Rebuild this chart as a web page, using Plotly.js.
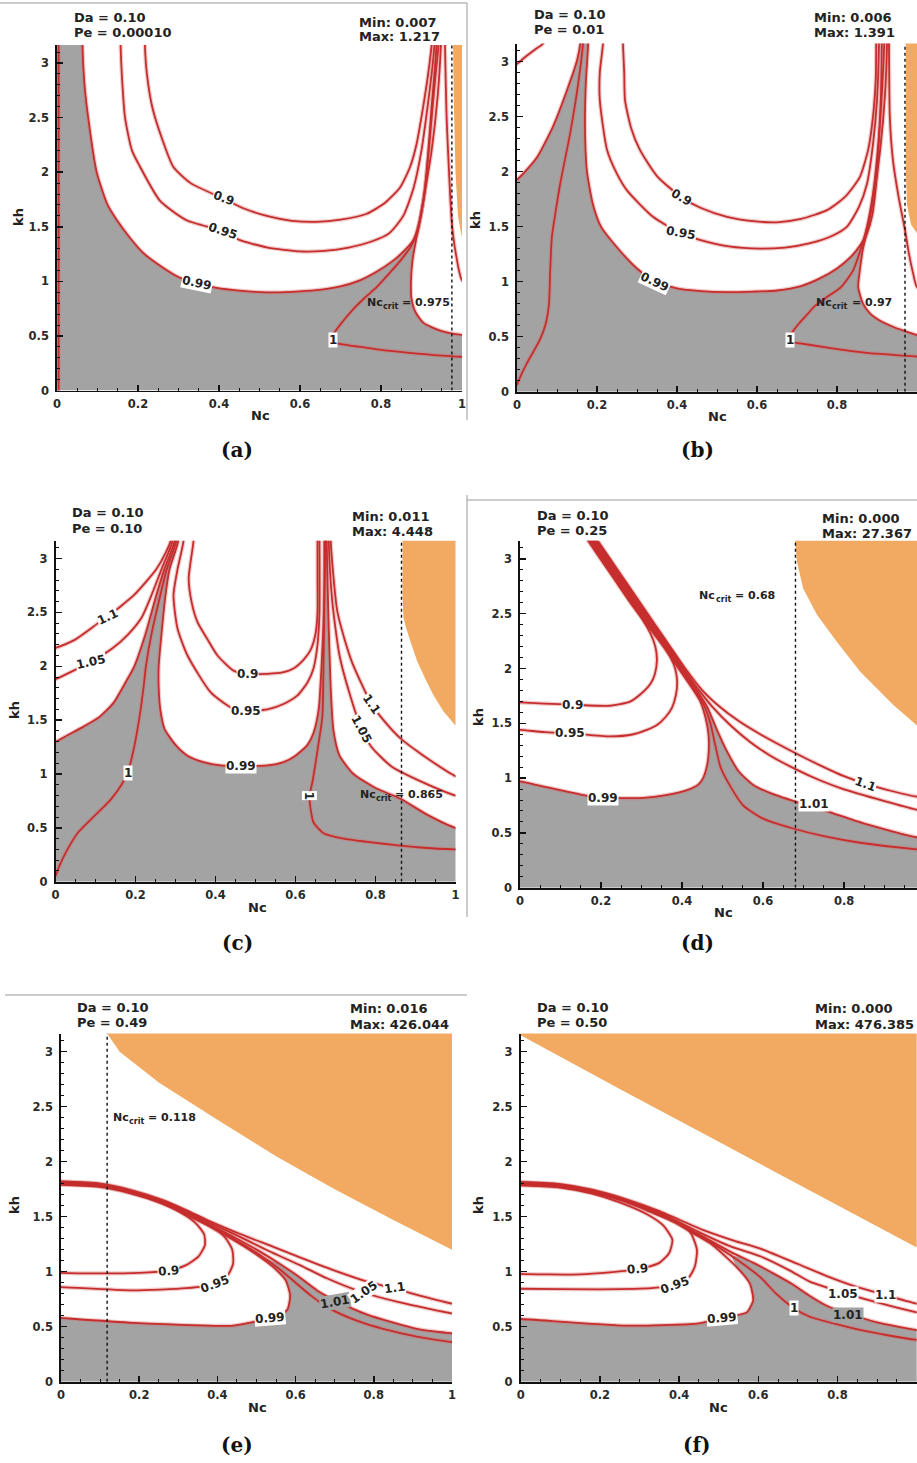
<!DOCTYPE html>
<html><head><meta charset="utf-8">
<script src="https://cdn.plot.ly/plotly-3.0.1.min.js"></script>
<style>html,body{margin:0;padding:0;background:#fff}#plot{width:917px;height:1463px}</style>
</head><body><div id="plot"></div>
<script>
// ---------------- DATA (Nc, kh) ----------------
const xTickVals = [0, 0.2, 0.4, 0.6, 0.8, 1];
const xTickText = ['0', '0.2', '0.4', '0.6', '0.8', '1'];
const yTickVals = [0, 0.5, 1, 1.5, 2, 2.5, 3];
const yTickText = ['0', '0.5', '1', '1.5', '2', '2.5', '3'];
const KH_MAX = 3.165;

const daText = ['Da = 0.10', 'Da = 0.10', 'Da = 0.10', 'Da = 0.10', 'Da = 0.10', 'Da = 0.10'];
const peText = ['Pe = 0.00010', 'Pe = 0.01', 'Pe = 0.10', 'Pe = 0.25', 'Pe = 0.49', 'Pe = 0.50'];
const minText = ['Min: 0.007', 'Min: 0.006', 'Min: 0.011', 'Min: 0.000', 'Min: 0.016', 'Min: 0.000'];
const maxText = ['Max: 1.217', 'Max: 1.391', 'Max: 4.448', 'Max: 27.367', 'Max: 426.044', 'Max: 476.385'];
const ncCrit = [0.975, 0.97, 0.865, 0.68, 0.118, null];
const ncCritText = ['0.975', '0.97', '0.865', '0.68', '0.118', null];
const subLabels = ['(a)', '(b)', '(c)', '(d)', '(e)', '(f)'];

// ----- panel (a) -----
const a_left = [[0.004,-0.1],[0.004,3.4]];
const a_090 = [[0.217,3.4],[0.217,3.165],[0.222,2.9],[0.235,2.6],[0.26,2.3],[0.287,2.05],[0.33,1.9],[0.41,1.76],[0.46,1.67],[0.518,1.6],[0.58,1.555],[0.64,1.545],[0.70,1.565],[0.765,1.62],[0.81,1.72],[0.847,1.86],[0.872,2.05],[0.888,2.26],[0.902,2.55],[0.913,2.81],[0.92,3.0],[0.925,3.165],[0.926,3.4]];
const a_095 = [[0.156,3.4],[0.157,3.165],[0.16,2.9],[0.168,2.5],[0.185,2.2],[0.205,2.05],[0.254,1.74],[0.32,1.56],[0.41,1.46],[0.45,1.38],[0.52,1.31],[0.6,1.275],[0.66,1.28],[0.72,1.31],[0.78,1.37],[0.82,1.44],[0.855,1.6],[0.88,1.85],[0.9,2.2],[0.915,2.6],[0.925,2.9],[0.932,3.165],[0.933,3.4]];
const a_099 = [[0.063,3.4],[0.063,3.165],[0.068,2.8],[0.077,2.5],[0.098,2.0],[0.125,1.7],[0.148,1.56],[0.18,1.4],[0.213,1.26],[0.26,1.13],[0.30,1.04],[0.345,0.985],[0.395,0.94],[0.45,0.915],[0.518,0.90],[0.58,0.905],[0.64,0.92],[0.70,0.955],[0.748,1.01],[0.79,1.09],[0.83,1.19],[0.86,1.29],[0.88,1.38],[0.895,1.55],[0.907,1.8],[0.917,2.2],[0.925,2.6],[0.932,2.9],[0.937,3.165],[0.938,3.4]];
const a_100 = [[0.943,3.4],[0.942,3.165],[0.935,2.9],[0.925,2.5],[0.913,2.0],[0.903,1.7],[0.89,1.45],[0.872,1.31],[0.85,1.2],[0.822,1.08],[0.79,0.95],[0.76,0.85],[0.73,0.74],[0.705,0.63],[0.685,0.53],[0.68,0.47],[0.69,0.435],[0.72,0.415],[0.76,0.395],[0.805,0.37],[0.87,0.345],[0.93,0.325],[1.0,0.31],[1.03,0.31]];
const a_desc = [[0.95,3.4],[0.948,3.165],[0.94,2.7],[0.925,2.2],[0.905,1.75],[0.888,1.41],[0.878,1.2],[0.874,1.0],[0.875,0.85],[0.885,0.72],[0.905,0.62],[0.946,0.55],[1.0,0.51],[1.03,0.505]];
const a_right = [[0.958,3.4],[0.958,3.165],[0.962,2.5],[0.968,2.0],[0.975,1.53],[0.985,1.25],[1.0,1.01],[1.03,0.95]];
const a_gray = [[-0.02,3.4],[0.063,3.4],[0.063,3.165],[0.068,2.8],[0.077,2.5],[0.098,2.0],[0.125,1.7],[0.148,1.56],[0.18,1.4],[0.213,1.26],[0.26,1.13],[0.30,1.04],[0.345,0.985],[0.395,0.94],[0.45,0.915],[0.518,0.90],[0.58,0.905],[0.64,0.92],[0.70,0.955],[0.748,1.01],[0.79,1.09],[0.83,1.19],[0.86,1.29],[0.88,1.38],[0.889,1.47],[0.882,1.33],[0.877,1.18],[0.874,1.0],[0.875,0.85],[0.885,0.72],[0.905,0.62],[0.946,0.55],[1.0,0.51],[1.03,0.505]];
const a_orange = [[0.978,3.4],[0.978,3.165],[0.98,2.6],[0.984,2.0],[0.99,1.6],[0.997,1.45],[1.0,1.4],[1.05,1.38],[1.05,3.4]];
const a_labels = [['0.9',0.41,1.76,20,'#fff'],['0.95',0.41,1.46,18,'#fff'],['0.99',0.345,0.985,12,'#fff'],['1',0.682,0.46,0,'#fff']];

// ----- panel (b) -----
const b_top = [[-0.02,2.94],[0.0,2.98],[0.02,3.04],[0.045,3.11],[0.065,3.165],[0.08,3.4]];
const b_edge = [[-0.02,1.92],[0,1.93],[0.02,2.0],[0.05,2.13],[0.09,2.41],[0.125,2.74],[0.15,3.01],[0.158,3.165],[0.16,3.4]];
const b_100L = [[0.0,0.06],[0.01,0.15],[0.025,0.26],[0.057,0.47],[0.072,0.62],[0.08,0.8],[0.083,1.1],[0.087,1.4],[0.095,1.6],[0.108,1.89],[0.133,2.35],[0.153,2.8],[0.165,3.165],[0.167,3.4]];
const b_099 = [[0.178,3.4],[0.178,3.165],[0.172,2.8],[0.17,2.4],[0.175,2.0],[0.19,1.7],[0.21,1.5],[0.26,1.27],[0.30,1.12],[0.345,1.0],[0.40,0.94],[0.46,0.915],[0.525,0.905],[0.59,0.91],[0.65,0.92],[0.71,0.96],[0.757,1.03],[0.80,1.12],[0.833,1.22],[0.858,1.33],[0.875,1.44],[0.888,1.6],[0.898,1.9],[0.905,2.3],[0.91,2.7],[0.912,3.165],[0.913,3.4]];
const b_095 = [[0.215,3.4],[0.215,3.165],[0.207,2.9],[0.207,2.65],[0.225,2.2],[0.25,1.98],[0.275,1.83],[0.34,1.59],[0.41,1.44],[0.457,1.38],[0.53,1.32],[0.607,1.30],[0.67,1.31],[0.733,1.35],[0.79,1.42],[0.825,1.5],[0.855,1.68],[0.875,1.89],[0.89,2.25],[0.9,2.65],[0.905,3.165],[0.905,3.4]];
const b_090 = [[0.265,3.4],[0.265,3.165],[0.268,2.9],[0.27,2.65],[0.285,2.4],[0.307,2.2],[0.35,1.96],[0.41,1.77],[0.46,1.67],[0.525,1.59],[0.59,1.55],[0.65,1.54],[0.71,1.57],[0.775,1.65],[0.82,1.77],[0.857,1.95],[0.878,2.2],[0.89,2.5],[0.897,2.85],[0.898,3.165],[0.898,3.4]];
const b_100 = [[0.918,3.4],[0.918,3.165],[0.912,2.7],[0.902,2.2],[0.89,1.8],[0.875,1.5],[0.858,1.28],[0.84,1.1],[0.81,0.95],[0.775,0.86],[0.745,0.78],[0.725,0.7],[0.705,0.62],[0.69,0.55],[0.683,0.49],[0.69,0.45],[0.708,0.44],[0.76,0.41],[0.815,0.38],[0.88,0.35],[0.94,0.335],[1.0,0.32],[1.03,0.32]];
const b_desc = [[0.925,3.4],[0.925,3.165],[0.92,2.7],[0.908,2.2],[0.893,1.8],[0.878,1.5],[0.865,1.3],[0.857,1.1],[0.853,0.95],[0.865,0.8],[0.883,0.71],[0.91,0.64],[0.94,0.59],[0.97,0.55],[1.0,0.515],[1.03,0.51]];
const b_right = [[0.93,3.4],[0.93,3.165],[0.932,2.5],[0.94,2.1],[0.955,1.75],[0.97,1.47],[0.98,1.25],[0.99,1.08],[1.0,0.95],[1.03,0.9]];
const b_gray = [[-0.02,1.92],[0,1.93],[0.02,2.0],[0.05,2.13],[0.09,2.41],[0.125,2.74],[0.15,3.01],[0.158,3.165],[0.16,3.4],[0.178,3.4],[0.178,3.165],[0.172,2.8],[0.17,2.4],[0.175,2.0],[0.19,1.7],[0.21,1.5],[0.26,1.27],[0.30,1.12],[0.345,1.0],[0.40,0.94],[0.46,0.915],[0.525,0.905],[0.59,0.91],[0.65,0.92],[0.71,0.96],[0.757,1.03],[0.80,1.12],[0.833,1.22],[0.858,1.33],[0.875,1.44],[0.882,1.52],[0.872,1.4],[0.862,1.25],[0.857,1.1],[0.853,0.95],[0.865,0.8],[0.883,0.71],[0.91,0.64],[0.94,0.59],[0.97,0.55],[1.0,0.515],[1.03,0.51]];
const b_orange = [[0.972,3.4],[0.972,2.0],[0.975,1.7],[0.985,1.52],[1.0,1.44],[1.05,1.42],[1.05,3.4]];
const b_labels = [['0.9',0.41,1.77,30,'#fff'],['0.95',0.41,1.44,10,'#fff'],['0.99',0.345,1.0,25,'#fff'],['1',0.683,0.47,0,'#fff']];

// ----- panel (c) -----
const c_110L = [[-0.02,2.15],[0,2.17],[0.05,2.25],[0.11,2.41],[0.13,2.46],[0.196,2.66],[0.23,2.8],[0.252,2.9],[0.275,3.05],[0.288,3.165],[0.29,3.4]];
const c_105L = [[-0.02,1.86],[0,1.88],[0.04,1.95],[0.0875,2.04],[0.14,2.16],[0.18,2.29],[0.215,2.45],[0.24,2.66],[0.265,2.9],[0.293,3.165],[0.295,3.4]];
const c_edgeL = [[-0.02,1.29],[0,1.3],[0.03,1.36],[0.07,1.44],[0.11,1.53],[0.145,1.66],[0.175,1.85],[0.197,2.0],[0.225,2.3],[0.252,2.66],[0.272,2.9],[0.298,3.165],[0.3,3.4]];
const c_100L = [[0,0.05],[0.01,0.15],[0.03,0.3],[0.055,0.45],[0.1,0.62],[0.1375,0.76],[0.165,0.9],[0.18,1.01],[0.195,1.22],[0.21,1.53],[0.22,1.8],[0.226,2.0],[0.24,2.3],[0.262,2.66],[0.278,2.9],[0.302,3.165],[0.304,3.4]];
const c_099 = [[0.307,3.4],[0.307,3.165],[0.285,2.9],[0.275,2.66],[0.265,2.3],[0.258,2.0],[0.258,1.8],[0.262,1.6],[0.2725,1.42],[0.3,1.27],[0.33,1.17],[0.37,1.11],[0.4125,1.08],[0.4625,1.075],[0.53,1.08],[0.57,1.11],[0.6,1.17],[0.63,1.27],[0.645,1.38],[0.658,1.6],[0.665,2.0],[0.67,2.4],[0.673,2.8],[0.675,3.165],[0.675,3.4]];
const c_095 = [[0.32,3.4],[0.32,3.165],[0.305,2.9],[0.295,2.66],[0.305,2.35],[0.33,2.1],[0.3875,1.76],[0.4375,1.62],[0.475,1.585],[0.53,1.6],[0.57,1.65],[0.605,1.73],[0.63,1.85],[0.645,1.98],[0.655,2.2],[0.66,2.5],[0.66,3.165],[0.66,3.4]];
const c_090 = [[0.345,3.4],[0.345,3.165],[0.333,2.82],[0.34,2.6],[0.355,2.41],[0.38,2.25],[0.405,2.1],[0.445,1.96],[0.48,1.93],[0.53,1.93],[0.565,1.94],[0.595,1.98],[0.62,2.06],[0.6375,2.15],[0.65,2.3],[0.655,2.5],[0.655,2.82],[0.655,3.165],[0.655,3.4]];
const c_100R = [[0.672,3.4],[0.672,3.165],[0.672,2.6],[0.67,2.0],[0.667,1.53],[0.655,1.22],[0.642,0.92],[0.635,0.8],[0.638,0.67],[0.645,0.55],[0.67,0.45],[0.72,0.4],[0.78,0.37],[0.85,0.34],[0.905,0.32],[1.0,0.30],[1.03,0.3]];
const c_edgeR = [[0.678,3.4],[0.678,3.165],[0.682,2.5],[0.688,1.8],[0.695,1.4],[0.71,1.17],[0.745,1.0],[0.8,0.87],[0.8625,0.77],[0.93,0.62],[1.0,0.5],[1.03,0.49]];
const c_105R = [[0.683,3.4],[0.683,3.165],[0.692,2.6],[0.71,2.1],[0.735,1.75],[0.765,1.42],[0.79,1.25],[0.84,1.07],[0.92,0.92],[1.0,0.8],[1.03,0.78]];
const c_110R = [[0.688,3.4],[0.688,3.165],[0.705,2.5],[0.74,2.05],[0.79,1.65],[0.82,1.5],[0.8625,1.33],[0.92,1.17],[1.0,0.98],[1.03,0.95]];
const c_gray = [[-0.02,1.29],[0,1.3],[0.03,1.36],[0.07,1.44],[0.11,1.53],[0.145,1.66],[0.175,1.85],[0.197,2.0],[0.225,2.3],[0.252,2.66],[0.272,2.9],[0.298,3.165],[0.3,3.4],[0.307,3.4],[0.307,3.165],[0.285,2.9],[0.275,2.66],[0.265,2.3],[0.258,2.0],[0.258,1.8],[0.262,1.6],[0.2725,1.42],[0.3,1.27],[0.33,1.17],[0.37,1.11],[0.4125,1.08],[0.4625,1.075],[0.53,1.08],[0.57,1.11],[0.6,1.17],[0.63,1.27],[0.645,1.38],[0.658,1.6],[0.665,2.0],[0.67,2.4],[0.673,2.8],[0.675,3.165],[0.675,3.4],[0.678,3.4],[0.678,3.165],[0.682,2.5],[0.688,1.8],[0.695,1.4],[0.71,1.17],[0.745,1.0],[0.8,0.87],[0.8625,0.77],[0.93,0.62],[1.0,0.5],[1.03,0.49]];
const c_orange = [[0.8675,3.4],[0.8675,2.66],[0.87,2.45],[0.877,2.35],[0.89,2.2],[0.905,2.04],[0.925,1.88],[0.945,1.73],[0.97,1.58],[1.0,1.45],[1.05,1.43],[1.05,3.4]];
const c_labels = [['1.1',0.13,2.46,-25,'#fff'],['1.05',0.0875,2.04,-12,'#fff'],['0.9',0.48,1.93,0,'#fff'],['0.95',0.475,1.585,0,'#fff'],['0.99',0.4625,1.075,0,'#fff'],['1',0.18,1.01,0,'#fff'],['1',0.636,0.8,90,'#fff'],['1.1',0.79,1.65,55,'#fff'],['1.05',0.765,1.42,62,'#fff']];

// ----- panel (d) -----
const d_090 = [[0.1245,3.4],[0.168,3.165],[0.1985,3.0],[0.2355,2.8],[0.2725,2.6],[0.302,2.45],[0.322,2.32],[0.334,2.2],[0.338,2.08],[0.333,1.95],[0.322,1.86],[0.296,1.76],[0.27,1.695],[0.222,1.66],[0.13,1.67],[0.06,1.68],[0,1.69],[-0.02,1.69]];
const d_095 = [[0.1285,3.4],[0.172,3.165],[0.2025,3.0],[0.2395,2.8],[0.2765,2.6],[0.3135,2.4],[0.334,2.3],[0.355,2.2],[0.372,2.1],[0.383,2.0],[0.388,1.88],[0.385,1.76],[0.375,1.64],[0.36,1.56],[0.34,1.49],[0.313,1.44],[0.28,1.4],[0.222,1.38],[0.123,1.41],[0.06,1.42],[0,1.44],[-0.02,1.44]];
const d_099 = [[0.1325,3.4],[0.176,3.165],[0.2065,3.0],[0.2435,2.8],[0.2805,2.6],[0.3175,2.4],[0.3545,2.2],[0.3915,2.0],[0.4285,1.8],[0.445,1.7],[0.458,1.55],[0.465,1.41],[0.466,1.25],[0.462,1.12],[0.452,1.0],[0.44,0.94],[0.412,0.89],[0.36,0.845],[0.304,0.82],[0.205,0.82],[0.15,0.85],[0.099,0.89],[0.05,0.93],[0,0.97],[-0.02,0.98]];
const d_100 = [[0.1365,3.4],[0.18,3.165],[0.2105,3.0],[0.2475,2.8],[0.2845,2.6],[0.3215,2.4],[0.3585,2.2],[0.3955,2.0],[0.4325,1.8],[0.455,1.66],[0.47,1.5],[0.482,1.3],[0.495,1.1],[0.52,0.92],[0.551,0.75],[0.6,0.63],[0.674,0.54],[0.75,0.47],[0.84,0.41],[0.98,0.35],[1.03,0.34]];
const d_101 = [[0.1405,3.4],[0.184,3.165],[0.2145,3.0],[0.2515,2.8],[0.2885,2.6],[0.3255,2.4],[0.3625,2.2],[0.3995,2.0],[0.4365,1.8],[0.462,1.65],[0.485,1.45],[0.51,1.25],[0.54,1.06],[0.575,0.94],[0.62,0.86],[0.68,0.785],[0.716,0.745],[0.76,0.695],[0.85,0.585],[0.98,0.46],[1.03,0.45]];
const d_105 = [[0.1445,3.4],[0.188,3.165],[0.2185,3.0],[0.2555,2.8],[0.2925,2.6],[0.3295,2.4],[0.3665,2.2],[0.4035,2.0],[0.442,1.8],[0.475,1.65],[0.52,1.48],[0.568,1.33],[0.62,1.2],[0.684,1.075],[0.74,0.98],[0.798,0.9],[0.9,0.79],[0.98,0.71],[1.03,0.69]];
const d_110 = [[0.1485,3.4],[0.192,3.165],[0.2225,3.0],[0.2595,2.8],[0.2965,2.6],[0.3335,2.4],[0.3705,2.2],[0.408,2.0],[0.45,1.8],[0.49,1.66],[0.54,1.52],[0.593,1.40],[0.684,1.22],[0.75,1.1],[0.798,1.02],[0.852,0.95],[0.92,0.88],[0.98,0.83],[1.03,0.81]];
const d_gray = [[-0.02,0.98],[0,0.97],[0.05,0.93],[0.099,0.89],[0.15,0.85],[0.205,0.82],[0.304,0.82],[0.36,0.845],[0.412,0.89],[0.44,0.94],[0.452,1.0],[0.462,1.12],[0.466,1.25],[0.465,1.41],[0.458,1.55],[0.445,1.7],[0.4325,1.8],[0.4365,1.8],[0.462,1.65],[0.485,1.45],[0.51,1.25],[0.54,1.06],[0.575,0.94],[0.62,0.86],[0.68,0.785],[0.716,0.745],[0.76,0.695],[0.85,0.585],[0.98,0.46],[1.03,0.45]];
const d_orange = [[0.679,3.4],[0.679,3.15],[0.684,2.97],[0.699,2.73],[0.733,2.49],[0.783,2.24],[0.84,1.97],[0.921,1.67],[0.98,1.48],[1.05,1.4],[1.05,3.4]];
const d_labels = [['0.9',0.13,1.67,0,'#fff'],['0.95',0.123,1.41,0,'#fff'],['0.99',0.205,0.82,0,'#fff'],['1.01',0.725,0.76,0,'#fff'],['1.1',0.852,0.95,20,'#fff']];

// ----- panel (e) -----
const e_090 = [[-0.02,0.995],[0,0.99],[0.1,0.985],[0.2,0.99],[0.274,1.01],[0.32,1.06],[0.352,1.14],[0.368,1.24],[0.366,1.34],[0.345,1.44],[0.31,1.53],[0.25,1.63],[0.18,1.71],[0.1,1.77],[0,1.79],[-0.02,1.79]];
const e_095 = [[-0.02,0.86],[0,0.86],[0.185,0.83],[0.32,0.85],[0.394,0.89],[0.425,0.96],[0.44,1.07],[0.438,1.2],[0.42,1.31],[0.385,1.41],[0.33,1.51],[0.26,1.625],[0.18,1.715],[0.1,1.775],[0,1.795],[-0.02,1.795]];
const e_099 = [[-0.02,0.585],[0,0.58],[0.185,0.535],[0.44,0.51],[0.535,0.58],[0.578,0.65],[0.586,0.78],[0.575,0.92],[0.54,1.05],[0.49,1.18],[0.44,1.29],[0.38,1.41],[0.32,1.52],[0.26,1.63],[0.18,1.72],[0.1,1.78],[0,1.8],[-0.02,1.8]];
const e_100 = [[-0.02,1.805],[0,1.805],[0.1,1.785],[0.18,1.725],[0.26,1.635],[0.32,1.53],[0.38,1.42],[0.45,1.28],[0.51,1.15],[0.56,1.02],[0.6,0.9],[0.64,0.78],[0.69,0.66],[0.76,0.55],[0.824,0.48],[0.91,0.41],[1.0,0.36],[1.03,0.35]];
const e_101 = [[-0.02,1.81],[0,1.81],[0.1,1.79],[0.18,1.73],[0.26,1.64],[0.32,1.54],[0.38,1.43],[0.45,1.3],[0.51,1.18],[0.56,1.07],[0.61,0.95],[0.655,0.83],[0.706,0.73],[0.783,0.61],[0.91,0.48],[1.0,0.44],[1.03,0.435]];
const e_105 = [[-0.02,1.815],[0,1.815],[0.1,1.795],[0.18,1.735],[0.26,1.645],[0.32,1.55],[0.38,1.445],[0.45,1.33],[0.53,1.19],[0.611,1.06],[0.68,0.94],[0.765,0.82],[0.867,0.72],[1.0,0.62],[1.03,0.61]];
const e_110 = [[-0.02,1.82],[0,1.82],[0.1,1.8],[0.18,1.74],[0.26,1.65],[0.32,1.56],[0.38,1.46],[0.46,1.34],[0.54,1.23],[0.611,1.13],[0.7,1.01],[0.783,0.91],[0.849,0.85],[0.92,0.78],[1.0,0.71],[1.03,0.70]];
const e_gray = [[-0.02,0.585],[0,0.58],[0.185,0.535],[0.44,0.51],[0.535,0.58],[0.578,0.65],[0.586,0.78],[0.575,0.92],[0.54,1.05],[0.525,1.12],[0.56,1.07],[0.61,0.95],[0.655,0.83],[0.706,0.73],[0.783,0.61],[0.91,0.48],[1.0,0.44],[1.03,0.435]];
const e_orange = [[0.118,3.4],[0.118,3.165],[0.15,3.0],[0.25,2.72],[0.4,2.38],[0.55,2.05],[0.7,1.75],[0.85,1.47],[1.0,1.2],[1.05,1.18],[1.05,3.4]];
const e_labels = [['0.9',0.274,1.01,-5,'#fff'],['0.95',0.394,0.89,-20,'#fff'],['0.99',0.535,0.58,-5,'#fff'],['1.01',0.7,0.725,-10,'#a3a3a3'],['1.05',0.775,0.815,-35,'#fff'],['1.1',0.852,0.855,-8,'#fff']];

// ----- panel (f) -----
const f_090 = [[-0.02,0.985],[0,0.98],[0.15,0.975],[0.294,1.02],[0.35,1.08],[0.375,1.17],[0.383,1.29],[0.36,1.42],[0.32,1.52],[0.25,1.63],[0.18,1.71],[0.1,1.765],[0,1.785],[-0.02,1.785]];
const f_095 = [[-0.02,0.845],[0,0.845],[0.2,0.84],[0.33,0.85],[0.39,0.885],[0.425,0.95],[0.44,1.05],[0.445,1.2],[0.428,1.36],[0.39,1.45],[0.33,1.54],[0.26,1.64],[0.18,1.72],[0.1,1.77],[0,1.79],[-0.02,1.79]];
const f_099 = [[-0.02,0.57],[0,0.57],[0.268,0.51],[0.45,0.53],[0.508,0.58],[0.571,0.63],[0.587,0.74],[0.579,0.89],[0.546,1.04],[0.478,1.26],[0.43,1.36],[0.395,1.44],[0.33,1.55],[0.26,1.645],[0.18,1.725],[0.1,1.775],[0,1.795],[-0.02,1.795]];
const f_100 = [[-0.02,1.8],[0,1.8],[0.1,1.78],[0.18,1.73],[0.26,1.65],[0.35,1.52],[0.45,1.33],[0.53,1.15],[0.605,0.95],[0.645,0.8],[0.689,0.67],[0.73,0.59],[0.8,0.52],[0.857,0.47],[0.93,0.42],[1.0,0.38],[1.03,0.37]];
const f_101 = [[-0.02,1.805],[0,1.805],[0.1,1.785],[0.18,1.735],[0.26,1.655],[0.35,1.53],[0.45,1.34],[0.53,1.18],[0.588,1.08],[0.64,0.98],[0.689,0.88],[0.73,0.78],[0.773,0.69],[0.826,0.62],[0.9,0.54],[1.0,0.47],[1.03,0.46]];
const f_105 = [[-0.02,1.81],[0,1.81],[0.1,1.79],[0.18,1.74],[0.26,1.66],[0.35,1.54],[0.45,1.36],[0.53,1.23],[0.605,1.14],[0.68,1.01],[0.73,0.91],[0.814,0.81],[0.9,0.72],[1.0,0.63],[1.03,0.61]];
const f_110 = [[-0.02,1.815],[0,1.815],[0.1,1.795],[0.18,1.745],[0.26,1.665],[0.35,1.55],[0.46,1.38],[0.54,1.28],[0.605,1.21],[0.7,1.07],[0.773,0.96],[0.85,0.86],[0.92,0.79],[1.0,0.71],[1.03,0.70]];
const f_gray = [[-0.02,0.57],[0,0.57],[0.268,0.51],[0.45,0.53],[0.508,0.58],[0.571,0.63],[0.587,0.74],[0.579,0.89],[0.546,1.04],[0.53,1.15],[0.56,1.13],[0.588,1.08],[0.689,0.88],[0.773,0.69],[0.826,0.62],[0.9,0.54],[1.0,0.47],[1.03,0.46]];
const f_orange = [[-0.05,3.4],[-0.05,3.2],[0,3.15],[0.25,2.66],[0.5,2.18],[0.75,1.7],[1.0,1.22],[1.05,1.15],[1.05,3.4]];
const f_labels = [['0.9',0.294,1.02,-5,'#fff'],['0.95',0.39,0.88,-20,'#fff'],['0.99',0.508,0.58,-5,'#fff'],['1',0.689,0.67,0,'#fff'],['1.01',0.826,0.61,0,'#a3a3a3'],['1.05',0.814,0.80,0,'#fff'],['1.1',0.92,0.79,0,'#fff']];

// ---------------- LAYOUT / STYLE ----------------
const W = 917, H = 1463;
const GRAY = '#a3a3a3', ORANGE = '#f2aa63', RED = '#c62d2d', HALO = 'rgba(215,105,105,0.35)';
const SANS = 'DejaVu Sans, Verdana, sans-serif';
const px = v => v / W, py = v => 1 - v / H;

const measure = (() => {
  const ctx = document.createElement('canvas').getContext('2d');
  return (t, size) => { ctx.font = 'bold ' + size + 'px "DejaVu Sans"'; return ctx.measureText(t).width; };
})();

const frames = [
  {x0: 57, x1: 462, xmax: 1, y0: 390.6, y1: 45},
  {x0: 517, x1: 917, xmax: 1, y0: 391.7, y1: 43.5},
  {x0: 55.5, x1: 455.5, xmax: 1, y0: 881.7, y1: 540.8},
  {x0: 520, x1: 917, xmax: 0.980, y0: 887.7, y1: 540.8},
  {x0: 61, x1: 452, xmax: 1, y0: 1381.7, y1: 1033.5},
  {x0: 520.7, x1: 916.7, xmax: 1, y0: 1381.7, y1: 1033.5}
];
const textPos = [
  {da: [72, 17], pe: [72, 33], mn: [357, 22], mx: [357, 36], nc: [260, 415], kh: [18, 217], sub: [237, 450]},
  {da: [532, 15], pe: [532, 30], mn: [812, 17], mx: [812, 33], nc: [717, 417], kh: [475, 220], sub: [697, 450]},
  {da: [70, 512], pe: [70, 528], mn: [350, 517], mx: [350, 531], nc: [257, 907], kh: [14, 710], sub: [237, 943]},
  {da: [535, 515], pe: [535, 530], mn: [820, 518], mx: [820, 533], nc: [723, 912], kh: [478, 717], sub: [697, 943]},
  {da: [75, 1007], pe: [75, 1022], mn: [348, 1008], mx: [348, 1024], nc: [257, 1407], kh: [14, 1205], sub: [237, 1445]},
  {da: [535, 1007], pe: [535, 1022], mn: [813, 1008], mx: [813, 1024], nc: [718, 1407], kh: [478, 1205], sub: [697, 1445]}
];
const critPos = [[0.867, 0.81, 'center'], [0.8425, 0.815, 'center'], [0.865, 0.805, 'center'], [0.536, 2.67, 'center'], [0.133, 2.4, 'left'], null];

const panelData = [
  {lines: [a_left, a_090, a_095, a_099, a_100, a_desc, a_right], gray: a_gray, orange: a_orange, labels: a_labels},
  {lines: [b_top, b_edge, b_100L, b_099, b_095, b_090, b_100, b_desc, b_right], gray: b_gray, orange: b_orange, labels: b_labels},
  {lines: [c_110L, c_105L, c_edgeL, c_100L, c_099, c_095, c_090, c_100R, c_edgeR, c_105R, c_110R], gray: c_gray, orange: c_orange, labels: c_labels},
  {lines: [d_090, d_095, d_099, d_100, d_101, d_105, d_110], gray: d_gray, orange: d_orange, labels: d_labels},
  {lines: [e_090, e_095, e_099, e_100, e_101, e_105, e_110], gray: e_gray, orange: e_orange, labels: e_labels},
  {lines: [f_090, f_095, f_099, f_100, f_101, f_105, f_110], gray: f_gray, orange: f_orange, labels: f_labels}
];

const traces = [];
const layout = {
  width: W, height: H, margin: {l: 0, r: 0, t: 0, b: 0},
  paper_bgcolor: '#fff', plot_bgcolor: 'rgba(0,0,0,0)', showlegend: false,
  annotations: [], shapes: []
};
const X = a => a.map(p => p[0]);
const Y = a => a.map(p => p[1]);

panelData.forEach((pd, i) => {
  const n = i === 0 ? '' : String(i + 1);
  const xa = 'x' + n, ya = 'y' + n;
  const fr = frames[i];
  const tickFont = {family: SANS, size: 11.5, color: '#2a2a2a', weight: 'bold'};
  layout['xaxis' + n] = {
    domain: [px(fr.x0), px(fr.x1)], range: [0, fr.xmax], anchor: ya,
    showgrid: false, zeroline: false, showline: true, linecolor: '#111', linewidth: 1.8,
    ticks: 'inside', ticklen: 6, tickwidth: 1.5, tickcolor: '#111',
    tickvals: xTickVals, ticktext: xTickText, tickfont: tickFont, ticklabelstandoff: 2,
    minor: {ticks: 'inside', ticklen: 3, tickwidth: 1, tickcolor: '#111', dtick: 0.05, tick0: 0, showgrid: false},
    fixedrange: true
  };
  layout['yaxis' + n] = {
    domain: [py(fr.y0), py(fr.y1)], range: [0, KH_MAX], anchor: xa,
    showgrid: false, zeroline: false, showline: true, linecolor: '#111', linewidth: 1.8,
    ticks: 'inside', ticklen: 6, tickwidth: 1.5, tickcolor: '#111',
    tickvals: yTickVals, ticktext: yTickText, tickfont: tickFont, ticklabelstandoff: 4,
    minor: {ticks: 'inside', ticklen: 3, tickwidth: 1, tickcolor: '#111', dtick: 0.1, tick0: 0, showgrid: false},
    fixedrange: true
  };

  traces.push({type: 'scatter', mode: 'lines', x: X(pd.gray), y: Y(pd.gray), xaxis: xa, yaxis: ya,
    fill: 'tozeroy', fillcolor: GRAY, line: {width: 0}, hoverinfo: 'skip'});
  traces.push({type: 'scatter', mode: 'lines', x: X(pd.orange), y: Y(pd.orange), xaxis: xa, yaxis: ya,
    fill: 'toself', fillcolor: ORANGE, line: {width: 0}, hoverinfo: 'skip'});
  pd.lines.forEach(c => {
    traces.push({type: 'scatter', mode: 'lines', x: X(c), y: Y(c), xaxis: xa, yaxis: ya,
      line: {color: HALO, width: 4.2, shape: 'spline', smoothing: 0.6}, hoverinfo: 'skip'});
  });
  pd.lines.forEach(c => {
    traces.push({type: 'scatter', mode: 'lines', x: X(c), y: Y(c), xaxis: xa, yaxis: ya,
      line: {color: RED, width: 1.8, shape: 'spline', smoothing: 0.6}, hoverinfo: 'skip'});
  });

  pd.labels.forEach(l => {
    layout.annotations.push({xref: xa, yref: ya, x: l[1], y: l[2], text: l[0], showarrow: false,
      textangle: l[3], bgcolor: l[4], borderpad: 0,
      font: {family: SANS, size: 12, color: '#222', weight: 'bold'}});
  });

  if (ncCrit[i] !== null) {
    layout.shapes.push({type: 'line', xref: xa, yref: ya, x0: ncCrit[i], x1: ncCrit[i], y0: 0, y1: KH_MAX,
      line: {color: '#111', width: 1.4, dash: 'dot'}, layer: 'above'});
    // "Nc" + subscript "crit" + "= value", built from three plain text pieces
    const cp = critPos[i];
    const parts = [['Nc', 11, 0, 0], ['crit', 8, -4, 0.5], ['= ' + ncCritText[i], 11, 0, measure(' ', 11)]];
    const widths = parts.map(p => measure(p[0], p[1]));
    const total = widths.reduce((s, w, k) => s + w + parts[k][3], 0);
    let off = cp[2] === 'center' ? -total / 2 : 0;
    parts.forEach((p, k) => {
      off += p[3];
      layout.annotations.push({xref: xa, yref: ya, x: cp[0], y: cp[1], xanchor: 'left', yanchor: 'middle',
        xshift: off, yshift: p[2], text: p[0], showarrow: false, borderpad: 0, borderwidth: 0,
        font: {family: SANS, size: p[1], color: '#222', weight: 'bold'}});
      off += widths[k];
    });
  }

  const tp = textPos[i];
  const txt = (t, p, opts) => Object.assign({xref: 'paper', yref: 'paper', x: px(p[0]), y: py(p[1]), text: t,
    showarrow: false, xanchor: 'left', yanchor: 'middle', font: {family: SANS, size: 13, color: '#222', weight: 'bold'}}, opts || {});
  layout.annotations.push(txt(daText[i], tp.da));
  layout.annotations.push(txt(peText[i], tp.pe));
  layout.annotations.push(txt(minText[i], tp.mn));
  layout.annotations.push(txt(maxText[i], tp.mx));
  layout.annotations.push(txt('Nc', tp.nc, {xanchor: 'center'}));
  layout.annotations.push(txt('kh', tp.kh, {xanchor: 'center', textangle: -90}));
  layout.annotations.push(txt(subLabels[i], tp.sub, {xanchor: 'center',
    font: {family: 'DejaVu Serif, serif', size: 20, color: '#111', weight: 'bold'}}));
});

const borders = [[0, 3, 467, 3], [467, 3, 467, 420], [467, 495, 467, 917], [467, 500, 917, 500], [5, 995, 467, 995]];
borders.forEach(b => layout.shapes.push({type: 'line', xref: 'paper', yref: 'paper',
  x0: px(b[0]), y0: py(b[1]), x1: px(b[2]), y1: py(b[3]), line: {color: '#9a9a9a', width: 1}}));

Plotly.newPlot('plot', traces, layout, {staticPlot: true, displayModeBar: false});
</script></body></html>
